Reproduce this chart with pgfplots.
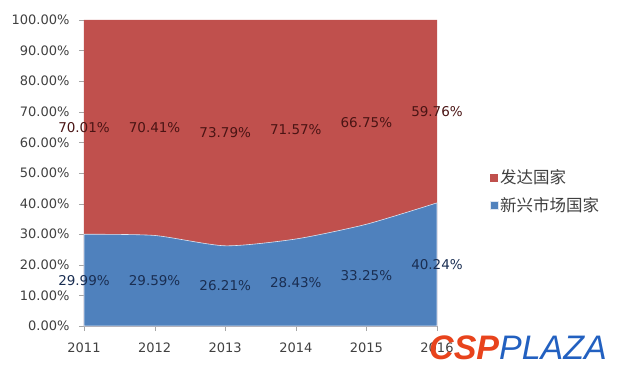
\documentclass[border=0pt]{standalone}
\usepackage{pgfplots}
\pgfplotsset{compat=1.18}
\usepackage{pgfplotstable}
\usepackage{fontspec}
\setmainfont{DejaVu Sans}
\newfontfamily\cjk{Noto Sans CJK SC}
\newfontfamily\wm{Liberation Sans}
\definecolor{cred}{HTML}{C0504D}
\definecolor{cblue}{HTML}{4F81BD}
\definecolor{lred}{HTML}{4A1414}
\definecolor{lblue}{HTML}{1A2E52}
\definecolor{tickc}{HTML}{404040}
\pgfplotstableread{
year blue red
0 29.99 70.01
1 29.59 70.41
2 26.21 73.79
3 28.43 71.57
4 33.25 66.75
5 40.24 59.76
}\shares
\begin{document}
\begin{tikzpicture}
\path[use as bounding box] (-84pt,-49pt) rectangle (536pt,326pt);
\begin{axis}[
  scale only axis, width=353pt, height=306pt,
  at={(0,0)}, anchor=south west,
  xmin=0, xmax=5, ymin=0, ymax=100,
  axis x line*=bottom, axis y line*=left,
  axis line style={draw=gray!70},
  xtick={0,1,2,3,4,5},
  xticklabels={2011,2012,2013,2014,2015,2016},
  ytick={0,10,...,100},
  yticklabel={\pgfmathprintnumber[fixed,precision=2,fixed zerofill]{\tick}\%},
  /pgf/number format/assume math mode=true,
  tick style={draw=gray!70},
  tick align=outside,
  major tick length=5pt,
  ticklabel style={font=\fontsize{13}{15}\selectfont, text=tickc},
  y tick label style={xshift=-6pt},
  x tick label style={yshift=-8pt},
  clip=false,
  legend style={at={(1.14,0.44)}, anchor=west, draw=none, fill=none,
    font=\cjk\fontsize{16.5}{18}\selectfont, text=tickc, row sep=8pt,
    legend cell align=left},
  legend image code/.code={\fill[#1] (0pt,-4pt) rectangle (8pt,4pt);},
]
\addplot[draw=none, fill=cred] table[x=year, y expr=\thisrow{blue}+\thisrow{red}] {\shares} \closedcycle;
\addlegendentry{发达国家}
\addplot[draw=white!80!cblue, line width=0.6pt, fill=cblue, smooth, tension=0.4] table[x=year, y=blue] {\shares} \closedcycle;
\addlegendentry{新兴市场国家}
\addplot[forget plot, draw=none, mark=none, nodes near coords={\pgfmathprintnumber[fixed,precision=2,fixed zerofill]{\pgfplotspointmeta}\%},
  nodes near coords align=center, point meta=explicit,
  every node near coord/.append style={font=\fontsize{13.5}{16}\selectfont, text=lred}]
  table[x=year, y expr=\thisrow{blue}+\thisrow{red}/2, meta=red] {\shares};
\addplot[forget plot, draw=none, mark=none, nodes near coords={\pgfmathprintnumber[fixed,precision=2,fixed zerofill]{\pgfplotspointmeta}\%},
  nodes near coords align=center, point meta=explicit,
  every node near coord/.append style={font=\fontsize{13.5}{16}\selectfont, text=lblue}]
  table[x=year, y expr=\thisrow{blue}/2, meta=blue] {\shares};
\end{axis}
\node[anchor=base west, inner sep=0pt] at (345pt,-33pt) {\wm\fontsize{34}{34}\selectfont\bfseries\itshape\textcolor[HTML]{E8431C}{CSP}\mdseries\textcolor[HTML]{2260C0}{PLAZA}};
\end{tikzpicture}
\end{document}
